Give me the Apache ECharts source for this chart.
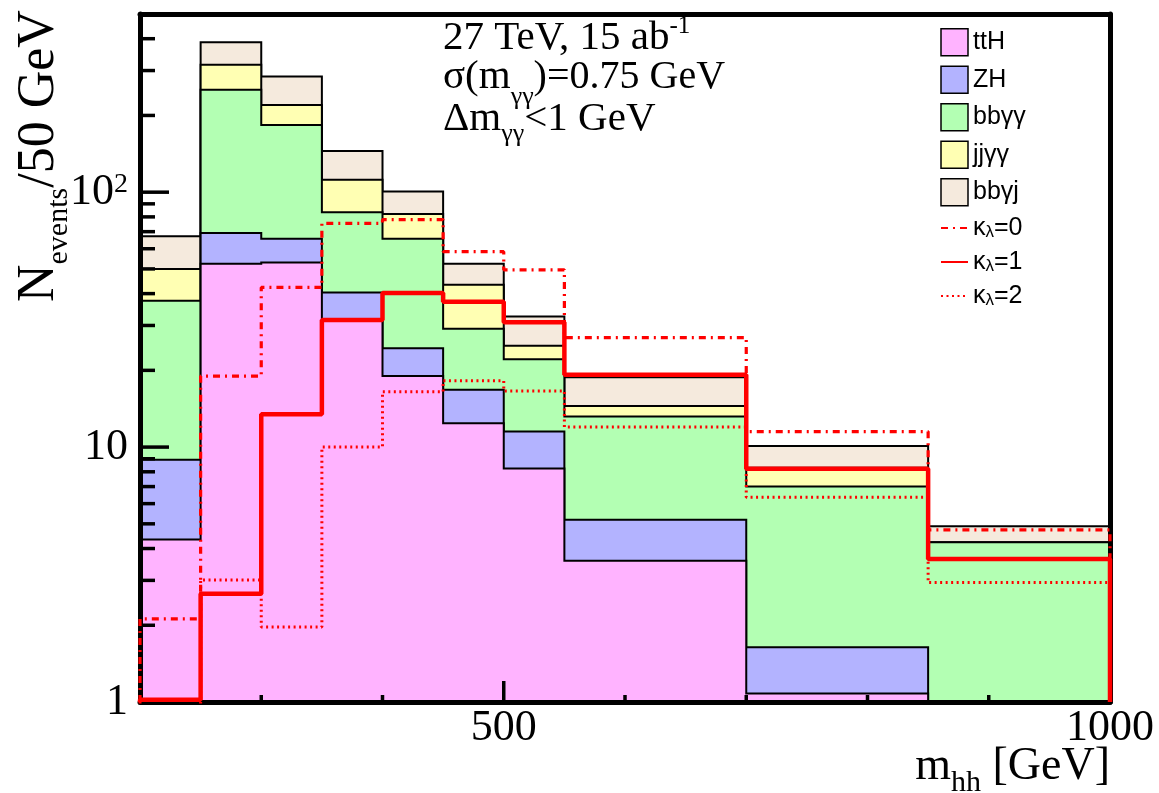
<!DOCTYPE html>
<html>
<head>
<meta charset="utf-8">
<script src="https://cdn.jsdelivr.net/npm/echarts@6/dist/echarts.min.js"></script>
<style>
  html, body { margin: 0; padding: 0; background: #fff; }
  #main { width: 1159px; height: 793px; }
</style>
</head>
<body>
<div id="main"></div>
<script>
// m_hh bin edges [GeV]
const binEdges = [200, 250, 300, 350, 400, 450, 500, 550, 700, 850, 1000];

// expected background events per bin
const ttH  = [4.34, 52.4, 53.0, 31.8, 19.0, 12.4, 8.25, 3.58, 1.08, 0.5];
const ZH   = [4.58, 16.8, 12.7, 8.6, 5.4, 4.4, 3.25, 1.61, 0.56, 0.3];
const bbaa = [28.6, 182.8, 117.9, 43.0, 41.3, 12.3, 10.6, 8.0, 5.36, 3.43];
const jjaa = [12.4, 64.0, 36.4, 28.6, 16.5, 14.2, 2.9, 1.3, 1.3, 0];
const bbaj = [17.2, 71.0, 64.0, 33.0, 18.4, 9.1, 7.5, 4.3, 1.8, 0.66];

// di-Higgs signal for three values of the trilinear coupling
const kappa0 = [2.12, 19.0, 42.3, 75.5, 78.0, 58.4, 49.6, 26.9, 11.5, 4.73];
const kappa1 = [1.02, 2.66, 13.45, 31.5, 40.2, 37.2, 30.9, 19.2, 8.22, 3.64];
const kappa2 = [0.7, 3.01, 1.97, 10.0, 16.5, 18.2, 16.6, 12.0, 6.36, 2.94];

// axis ranges and labelled ticks
const X_MIN = 200, X_MAX = 1000, Y_MIN = 1, Y_MAX = 500;
const xTickLabels = [500, 1000];
const yTickLabels = [1, 10, 100];

const SERIF = "'Liberation Serif', 'DejaVu Serif', serif";
const SANS = "'Liberation Sans', Arial, sans-serif";

// stacked cumulative totals, bottom layer first
const layers = [
  { name: 'ttH',  vals: ttH,  color: '#ffb3ff' },
  { name: 'ZH',   vals: ZH,   color: '#b3b3ff' },
  { name: 'bbγγ', vals: bbaa, color: '#b3ffb3' },
  { name: 'jjγγ', vals: jjaa, color: '#ffffb3' },
  { name: 'bbγj', vals: bbaj, color: '#f5eadd' }
];
let running = ttH.map(() => 0);
layers.forEach(l => {
  running = running.map((r, i) => r + l.vals[i]);
  l.cum = running.slice();
});

// histogram outline as a closed step path in data space
function stepPoints(vals, floor) {
  const pts = [[binEdges[0], floor]];
  vals.forEach((v, i) => {
    pts.push([binEdges[i], v]);
    pts.push([binEdges[i + 1], v]);
  });
  pts.push([binEdges[binEdges.length - 1], floor]);
  return pts;
}

function histSeries(layer) {
  return {
    type: 'custom',
    name: layer.name,
    z: 1,
    clip: true,
    silent: true,
    itemStyle: { color: layer.color, borderColor: '#000' },
    data: [[binEdges[0], Y_MIN]],
    encode: { x: 0, y: 1 },
    renderItem: function (params, api) {
      const pts = stepPoints(layer.cum, Y_MIN).map(p => api.coord(p));
      return {
        type: 'polygon',
        shape: { points: pts },
        style: { fill: layer.color, stroke: '#000', lineWidth: 2 }
      };
    }
  };
}

// tick marks drawn inside the frame
const yTicks = [];
[1, 10, 100].forEach(d => {
  for (let k = 1; k <= 9; k++) {
    const v = k * d;
    if (v > Y_MIN && v < Y_MAX) yTicks.push([X_MIN, v, k === 1 ? 29 : 15]);
  }
});
const xTicks = [];
for (let v = 300; v < X_MAX; v += 100) xTicks.push([v, Y_MIN, v % 500 === 0 ? 21 : 7]);

const tickSeries = [
  {
    type: 'custom', z: 4, silent: true, clip: false,
    data: yTicks, encode: { x: 0, y: 1 },
    renderItem: function (params, api) {
      const p = api.coord([api.value(0), api.value(1)]);
      return { type: 'line', shape: { x1: p[0], y1: p[1], x2: p[0] + api.value(2), y2: p[1] },
               style: { stroke: '#000', lineWidth: 3.5 } };
    }
  },
  {
    type: 'custom', z: 4, silent: true, clip: false,
    data: xTicks, encode: { x: 0, y: 1 },
    renderItem: function (params, api) {
      const p = api.coord([api.value(0), api.value(1)]);
      return { type: 'line', shape: { x1: p[0], y1: p[1], x2: p[0], y2: p[1] - api.value(2) },
               style: { stroke: '#000', lineWidth: 3.5 } };
    }
  }
];

function kappaSeries(name, vals, width, dash) {
  return {
    type: 'line', name: name, z: 5, clip: true, silent: true,
    data: stepPoints(vals, Y_MIN),
    symbol: 'none',
    itemStyle: { color: '#ff0000' },
    lineStyle: { color: '#ff0000', width: width, type: dash, cap: 'butt' }
  };
}

// text helpers: consecutive runs on a common baseline
const mctx = document.createElement('canvas').getContext('2d');
function textWidth(t, size, fam) { mctx.font = size + 'px ' + fam; return mctx.measureText(t).width; }
function textRun(parts, fam) {
  let x = 0;
  const children = [];
  parts.forEach(p => {
    children.push({
      type: 'text', x: x, y: (p.dy || 0) - 0.34 * p.size, silent: true,
      style: { text: p.t, font: p.size + 'px ' + fam, fill: '#000',
               align: 'left', verticalAlign: 'middle', textAlign: 'left', textVerticalAlign: 'middle' }
    });
    x += textWidth(p.t, p.size, fam) + (p.gap || 0);
  });
  return { children: children, width: x };
}

const row1 = textRun([{ t: '27 TeV, 15 ab', size: 41 }, { t: '-1', size: 25, dy: -17 }], SERIF);
const row2 = textRun([{ t: 'σ(m', size: 41 }, { t: 'γγ', size: 26, dy: 15 }, { t: ')=0.75 GeV', size: 40 }], SERIF);
const row3 = textRun([{ t: 'Δm', size: 41 }, { t: 'γγ', size: 26, dy: 10 }, { t: '<1 GeV', size: 41 }], SERIF);
const xTitle = textRun([{ t: 'm', size: 46 }, { t: 'hh', size: 30, dy: 10 }, { t: ' [GeV]', size: 46 }], SERIF);
const yTitle = textRun([{ t: 'N', size: 52 }, { t: 'events', size: 30, dy: 12 }, { t: '/50 GeV', size: 52 }], SERIF);

const kappaRich = {
  k: { fontSize: 25, fontFamily: SANS, color: '#000', lineHeight: 25 },
  l: { fontSize: 17, fontFamily: SANS, color: '#000', lineHeight: 12, verticalAlign: 'bottom' }
};

const frameLine = { show: true, onZero: false, lineStyle: { color: '#000', width: 5 } };

const option = {
  animation: false,
  backgroundColor: '#fff',
  grid: { left: 140, right: 49, top: 14, bottom: 91, containLabel: false },
  xAxis: [
    {
      type: 'value', min: X_MIN, max: X_MAX, interval: 100, position: 'bottom', z: 3,
      axisLine: frameLine, axisTick: { show: false }, splitLine: { show: false },
      axisLabel: {
        color: '#000', fontFamily: SERIF, fontSize: 44, margin: 4,
        formatter: v => (xTickLabels.indexOf(Math.round(v)) >= 0 ? String(Math.round(v)) : '')
      }
    },
    {
      type: 'value', min: X_MIN, max: X_MAX, position: 'top', z: 3,
      axisLine: frameLine, axisTick: { show: false }, splitLine: { show: false }, axisLabel: { show: false }
    }
  ],
  yAxis: [
    {
      type: 'log', logBase: 10, min: Y_MIN, max: Y_MAX, position: 'left', z: 3,
      axisLine: frameLine, axisTick: { show: false }, splitLine: { show: false },
      axisLabel: {
        color: '#000', fontFamily: SERIF, fontSize: 44, margin: 12,
        formatter: function (v) {
          const r = Math.round(v);
          if (yTickLabels.indexOf(r) < 0 || Math.abs(v - r) > 1e-6 * r) return '';
          if (r === 100) return '{a|10}{b|2}';
          return String(r);
        },
        rich: {
          a: { fontSize: 44, fontFamily: SERIF, color: '#000' },
          b: { fontSize: 28, fontFamily: SERIF, color: '#000', verticalAlign: 'top' }
        }
      }
    },
    {
      type: 'log', logBase: 10, min: Y_MIN, max: Y_MAX, position: 'right', z: 3,
      axisLine: frameLine, axisTick: { show: false }, splitLine: { show: false }, axisLabel: { show: false }
    }
  ],
  legend: {
    orient: 'vertical', left: 940, top: 28, padding: 0,
    itemWidth: 27, itemHeight: 27, itemGap: 9, selectedMode: false,
    textStyle: { fontSize: 25, fontFamily: SANS, color: '#000', lineHeight: 25, rich: kappaRich },
    formatter: function (name) {
      if (name.charAt(0) === 'κ') return '{k|κ}{l|λ}{k|' + name.slice(2) + '}';
      return name;
    },
    data: layers.map(l => ({
      name: l.name, icon: 'rect',
      itemStyle: { color: l.color, borderColor: '#000', borderWidth: 1.5 }
    })).concat(['κλ=0', 'κλ=1', 'κλ=2'].map(n => ({
      name: n,
      itemStyle: { color: 'rgba(0,0,0,0)', borderWidth: 0, opacity: 0 }
    })))
  },
  graphic: [
    { type: 'group', x: 443, y: 52, children: row1.children },
    { type: 'group', x: 443, y: 91, children: row2.children },
    { type: 'group', x: 443, y: 133, children: row3.children },
    { type: 'group', x: 1110 - xTitle.width, y: 783, children: xTitle.children },
    { type: 'group', x: 57, y: 302, rotation: Math.PI / 2, children: yTitle.children }
  ],
  series: layers.slice().reverse().map(histSeries)
    .concat(tickSeries)
    .concat([
      kappaSeries('κλ=0', kappa0, 3.2, [7, 5, 2, 5]),
      kappaSeries('κλ=1', kappa1, 4.5, 'solid'),
      kappaSeries('κλ=2', kappa2, 3, [2, 3.5])
    ])
};

const chart = echarts.init(document.getElementById('main'), null, { renderer: 'canvas' });
chart.setOption(option);
</script>
</body>
</html>
